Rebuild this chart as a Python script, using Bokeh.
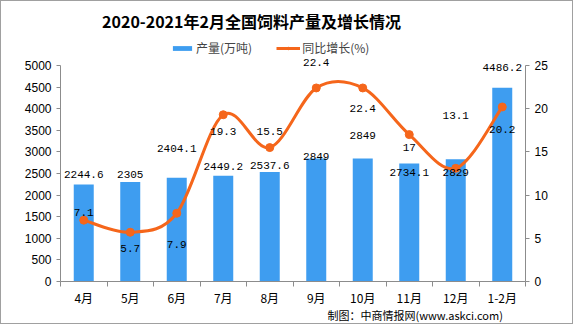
import numpy as np
from bokeh.plotting import figure
from bokeh.models import (Range1d, LinearAxis, FixedTicker, Legend, LegendItem, Label, Title)
from bokeh.core.properties import value
from bokeh.embed import file_html
from bokeh.resources import INLINE

# ---- data ----
months = ["4月", "5月", "6月", "7月", "8月", "9月", "10月", "11月", "12月", "1-2月"]
output = [2244.6, 2305, 2404.1, 2449.2, 2537.6, 2849, 2849, 2734.1, 2829, 4486.2]
growth = [7.1, 5.7, 7.9, 19.3, 15.5, 22.4, 22.4, 17, 13.1, 20.2]
left_ticks = [0, 500, 1000, 1500, 2000, 2500, 3000, 3500, 4000, 4500, 5000]
right_ticks = [0, 5, 10, 15, 20, 25]
LEFT_MAX = 5000
RIGHT_MAX = 25

# ---- label placement (screen px, positive = up) ----
bar_lab_up = [10, 7.5, 29, 9, 6.5, 2, 23, -9, -13, 20]
line_lab_up = [8, -16, -31, -17, 16, 25, -21, -13, 53, -23]

BAR = "#3E9DF0"
LINE = "#F5661B"
AXIS = "#8C8C8C"

n = len(months)
xs = [i + 0.5 for i in range(n)]

# frame spans from the canvas top down to the x axis; the value axes stop at their max
FRAME_H = 280.0
AXIS_H = 216.0
top_scale = FRAME_H / AXIS_H

p = figure(width=573, height=324, output_backend="svg", toolbar_location=None, title=None,
           x_range=Range1d(0, n), y_range=Range1d(0, LEFT_MAX * top_scale),
           min_border_left=59, min_border_right=49, min_border_top=0, min_border_bottom=44)
p.styles = {"border": "1px solid #A0A0A0"}
p.extra_y_ranges = {"right": Range1d(0, RIGHT_MAX * top_scale)}
p.xgrid.visible = False
p.ygrid.visible = False
p.outline_line_color = None
p.background_fill_color = "white"
p.border_fill_color = "white"

# x axis
xa = p.xaxis[0]
xa.ticker = FixedTicker(ticks=xs, minor_ticks=list(range(n + 1)))
xa.major_label_overrides = {x: m for x, m in zip(xs, months)}
xa.major_tick_line_color = None
xa.major_tick_out = 5
xa.major_tick_in = 0
xa.minor_tick_out = 5
xa.minor_tick_in = 0
xa.minor_tick_line_color = AXIS
xa.axis_line_color = AXIS
xa.major_label_standoff = 2
xa.major_label_text_font = "Noto Sans CJK SC"
xa.major_label_text_font_size = "12px"
xa.major_label_text_color = "black"

# left axis
ya = p.yaxis[0]
ya.ticker = FixedTicker(ticks=left_ticks)
ya.bounds = (0, LEFT_MAX)
ya.minor_tick_line_color = None
ya.major_tick_out = 4
ya.major_tick_in = 0
ya.major_tick_line_color = AXIS
ya.axis_line_color = AXIS
ya.major_label_standoff = 5
ya.major_label_text_font = "Liberation Sans"
ya.major_label_text_font_size = "12px"
ya.major_label_text_color = "black"

# right axis
ra = LinearAxis(y_range_name="right", ticker=FixedTicker(ticks=right_ticks), bounds=(0, RIGHT_MAX))
ra.minor_tick_line_color = None
ra.major_tick_out = 4
ra.major_tick_in = 0
ra.major_tick_line_color = AXIS
ra.axis_line_color = AXIS
ra.major_label_standoff = 5
ra.major_label_text_font = "Liberation Sans"
ra.major_label_text_font_size = "12px"
ra.major_label_text_color = "black"
p.add_layout(ra, "right")

# bars
bars = p.vbar(x=xs, top=output, width=0.43, fill_color=BAR, line_color=None)

# smoothed line (Catmull-Rom -> cubic Bezier, like spreadsheet smoothing)
X = np.array(xs, dtype=float)
Y = np.array(growth, dtype=float)
Xp = np.concatenate([[X[0]], X, [X[-1]]])
Yp = np.concatenate([[Y[0]], Y, [Y[-1]]])
x0, y0 = X[:-1], Y[:-1]
x1, y1 = X[1:], Y[1:]
cx0 = x0 + (Xp[2:-1] - Xp[0:-3]) / 6.0
cy0 = y0 + (Yp[2:-1] - Yp[0:-3]) / 6.0
cx1 = x1 - (Xp[3:] - Xp[1:-2]) / 6.0
cy1 = y1 - (Yp[3:] - Yp[1:-2]) / 6.0
curve = p.bezier(x0=x0, y0=y0, x1=x1, y1=y1, cx0=cx0, cy0=cy0, cx1=cx1, cy1=cy1,
                 line_color=LINE, line_width=3, y_range_name="right")
dots = p.scatter(x=xs, y=growth, size=8, marker="circle", fill_color=LINE,
                 line_color=LINE, y_range_name="right")

def fmt(v):
    return f"{v:g}"

LABFONT = value("Liberation Mono")
p.text(x=xs, y=output, text=[fmt(v) for v in output], y_offset=[-u for u in bar_lab_up],
       text_align="center", text_baseline="middle", text_font=LABFONT,
       text_font_size="11px", text_color="black")
p.text(x=xs, y=growth, text=[fmt(v) for v in growth], y_offset=[-u for u in line_lab_up],
       text_align="center", text_baseline="middle", text_font=LABFONT,
       text_font_size="11px", text_color="black", y_range_name="right")

# legend
legend = Legend(items=[LegendItem(label="产量(万吨)", renderers=[bars]),
                       LegendItem(label="同比增长(%)", renderers=[curve, dots])],
                orientation="horizontal", location=(110, 225),
                glyph_width=24, glyph_height=6, label_standoff=2, spacing=24,
                padding=0, margin=0, border_line_color=None, background_fill_alpha=0,
                label_text_font="Noto Sans CJK SC", label_text_font_size="12px",
                label_height=14)
p.add_layout(legend, "center")

# title (frame: 1 left-axis unit = 216/5000 px)
upx = LEFT_MAX / AXIS_H
p.add_layout(Label(x=(251 - 60) / 46.5, y=261 * upx, text="2020-2021年2月全国饲料产量及增长情况",
                   text_align="center", text_baseline="middle", text_font="Noto Sans CJK SC",
                   text_font_size="16px", text_font_style="bold", text_color="black"))

# footer
p.add_layout(Title(text="制图：中商情报网(www.askci.com)", align="left", offset=267,
                   text_font="Noto Sans CJK SC", text_font_size="11px", text_line_height=1.0,
                   text_font_style="normal", text_color="black", standoff=-7), "below")

open("out.html", "w").write(file_html(p, INLINE))
